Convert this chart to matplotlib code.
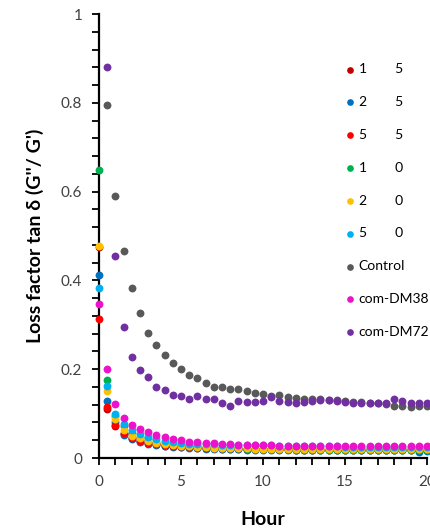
import numpy as np
import matplotlib
matplotlib.use("Agg")
import matplotlib.pyplot as plt
from matplotlib.ticker import MultipleLocator, FuncFormatter

plt.rcParams['font.family'] = ['Lato', 'DejaVu Sans']

# sampling every 0.5 h from 0 to 20 h
hours = np.arange(0, 20.5, 0.5)

labels = ["1        5", "2        5", "5        5", "1        0", "2        0",
          "5        0", "Control", "com-DM38", "com-DM72"]
colors = ["#C00000", "#0070C0", "#FF0000", "#00B050", "#FFC000",
          "#00B0F0", "#595959", "#EE11CC", "#7030A0"]

s1 = [0.475, 0.110, 0.072, 0.055, 0.044, 0.038, 0.034, 0.031, 0.028, 0.026,
      0.025, 0.024, 0.023, 0.022, 0.022, 0.021, 0.021, 0.021, 0.020, 0.020,
      0.020, 0.020, 0.020, 0.020, 0.019, 0.019, 0.019, 0.019, 0.019, 0.019,
      0.019, 0.019, 0.019, 0.019, 0.019, 0.019, 0.019, 0.019, 0.019, 0.019,
      0.019]
s2 = [0.412, 0.129, 0.080, 0.052, 0.042, 0.037, 0.032, 0.029, 0.027, 0.025,
      0.024, 0.023, 0.022, 0.021, 0.021, 0.020, 0.020, 0.020, 0.019, 0.019,
      0.019, 0.019, 0.018, 0.018, 0.018, 0.018, 0.018, 0.018, 0.017, 0.017,
      0.017, 0.017, 0.017, 0.017, 0.017, 0.017, 0.017, 0.017, 0.017, 0.014,
      0.016]
s3 = [0.313, 0.114, 0.074, 0.057, 0.045, 0.039, 0.034, 0.031, 0.029, 0.027,
      0.026, 0.025, 0.024, 0.023, 0.023, 0.022, 0.022, 0.022, 0.021, 0.021,
      0.021, 0.021, 0.020, 0.020, 0.020, 0.020, 0.020, 0.020, 0.020, 0.020,
      0.020, 0.020, 0.020, 0.020, 0.020, 0.020, 0.020, 0.020, 0.020, 0.020,
      0.020]
s4 = [0.648, 0.175, 0.095, 0.071, 0.056, 0.048, 0.042, 0.037, 0.034, 0.031,
      0.029, 0.027, 0.026, 0.025, 0.024, 0.023, 0.022, 0.022, 0.021, 0.021,
      0.020, 0.020, 0.020, 0.020, 0.019, 0.019, 0.019, 0.019, 0.019, 0.018,
      0.018, 0.018, 0.018, 0.018, 0.018, 0.018, 0.018, 0.018, 0.017, 0.017,
      0.017]
s5 = [0.478, 0.150, 0.087, 0.064, 0.050, 0.044, 0.039, 0.034, 0.031, 0.029,
      0.027, 0.026, 0.025, 0.024, 0.023, 0.023, 0.022, 0.022, 0.022, 0.021,
      0.021, 0.021, 0.021, 0.021, 0.021, 0.020, 0.020, 0.020, 0.020, 0.020,
      0.020, 0.020, 0.020, 0.020, 0.020, 0.020, 0.020, 0.020, 0.020, 0.020,
      0.020]
s6 = [0.383, 0.163, 0.100, 0.077, 0.062, 0.053, 0.047, 0.042, 0.039, 0.036,
      0.034, 0.032, 0.032, 0.031, 0.031, 0.030, 0.030, 0.029, 0.029, 0.029,
      0.029, 0.030, 0.028, 0.028, 0.027, 0.027, 0.026, 0.026, 0.026, 0.026,
      0.025, 0.025, 0.025, 0.025, 0.025, 0.025, 0.025, 0.025, 0.025, 0.024,
      0.024]
control = [np.nan, 0.795, 0.590, 0.466, 0.383, 0.326, 0.282, 0.255, 0.231, 0.213,
           0.201, 0.187, 0.181, 0.170, 0.161, 0.161, 0.156, 0.155, 0.151, 0.146,
           0.144, 0.140, 0.142, 0.138, 0.136, 0.134, 0.133, 0.133, 0.131, 0.130,
           0.128, 0.126, 0.126, 0.124, 0.123, 0.122, 0.117, 0.117, 0.116, 0.118,
           0.117]
dm38 = [0.347, 0.200, 0.121, 0.091, 0.074, 0.065, 0.058, 0.052, 0.047, 0.043,
        0.040, 0.037, 0.035, 0.034, 0.033, 0.032, 0.031, 0.030, 0.030, 0.029,
        0.029, 0.029, 0.028, 0.028, 0.028, 0.028, 0.027, 0.027, 0.027, 0.027,
        0.027, 0.027, 0.026, 0.026, 0.026, 0.026, 0.026, 0.026, 0.026, 0.026,
        0.026]
dm72 = [np.nan, 0.880, 0.455, 0.294, 0.228, 0.198, 0.183, 0.161, 0.153, 0.143,
        0.139, 0.132, 0.139, 0.133, 0.132, 0.124, 0.117, 0.128, 0.126, 0.127,
        0.128, 0.137, 0.129, 0.127, 0.124, 0.126, 0.129, 0.130, 0.130, 0.129,
        0.126, 0.125, 0.125, 0.124, 0.124, 0.124, 0.132, 0.128, 0.125, 0.125,
        0.125]

series = [s1, s2, s3, s4, s5, s6, control, dm38, dm72]

fig = plt.figure(figsize=(4.31, 5.29), dpi=100)
ax = fig.add_axes([0.2297, 0.1342, 0.761, 0.8393])

for vals, lab, col in zip(series, labels, colors):
    ax.scatter(hours, vals, s=32, color=col, label=lab, clip_on=False,
               linewidths=0, zorder=3)

ax.set_xlim(0, 20)
ax.set_ylim(0, 1)
ax.xaxis.set_major_locator(MultipleLocator(5))
ax.xaxis.set_minor_locator(MultipleLocator(1))
ax.yaxis.set_major_locator(MultipleLocator(0.2))
ax.yaxis.set_minor_locator(MultipleLocator(0.04))
ax.yaxis.set_major_formatter(FuncFormatter(lambda v, p: "{:g}".format(round(v, 2))))

for side in ["top", "right"]:
    ax.spines[side].set_visible(False)
for side in ["left", "bottom"]:
    ax.spines[side].set_linewidth(1.6)
    ax.spines[side].set_color("black")

ax.tick_params(which="both", direction="out", width=1.3, color="black",
               labelsize=11, labelcolor="#404040")
ax.tick_params(which="major", length=5, pad=7)
ax.tick_params(which="minor", length=5)

ax.set_xlabel("Hour", fontsize=14, fontweight="bold", labelpad=16)
ax.set_ylabel("Loss factor tan δ (G''/ G')", fontsize=14, fontweight="bold",
              labelpad=12)

ax.legend(loc="upper left", bbox_to_anchor=(0.79, 0.891),
          bbox_transform=fig.transFigure, frameon=False, fontsize=10,
          handlelength=0.6, handletextpad=0.3, labelspacing=1.5,
          borderaxespad=0, markerscale=0.85)

plt.savefig("out.png", dpi=100)
